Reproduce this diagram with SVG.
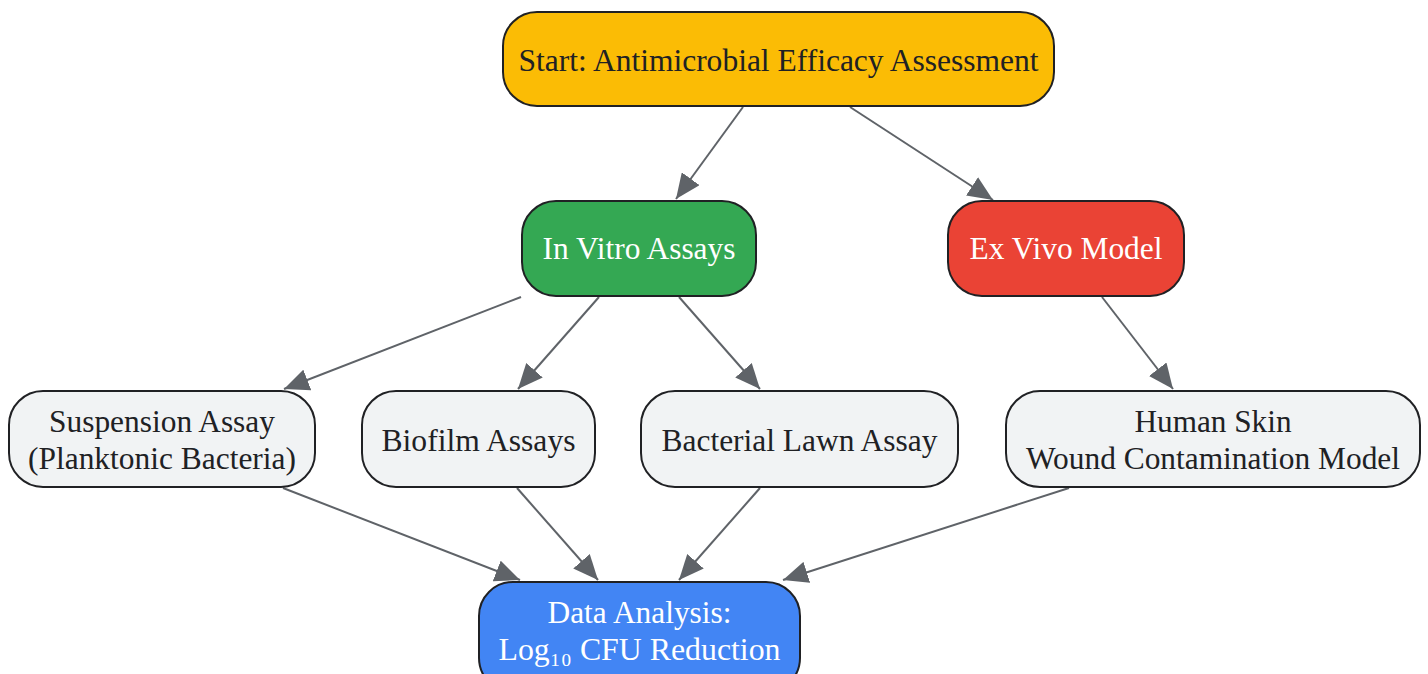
<svg xmlns="http://www.w3.org/2000/svg" width="1428" height="674" viewBox="0 0 1428 674">
<style>
.n{stroke:#202124;stroke-width:2}
.t{font-family:"Liberation Serif","Times New Roman",serif;font-size:31px;text-anchor:middle;fill:#202124}
.w{fill:#ffffff}
.e{stroke:#5f6368;stroke-width:2;fill:none;marker-end:url(#ah)}
</style>
<defs>
<marker id="ah" markerUnits="userSpaceOnUse" markerWidth="25" markerHeight="22" refX="25" refY="11" orient="auto">
<path d="M0,0 L25,11 L0,22 z" fill="#5f6368"/>
</marker>
</defs>
<g id="connectors">
<line class="e" x1="743" y1="107" x2="676" y2="199"/>
<line class="e" x1="850" y1="107" x2="993" y2="200"/>
<line class="e" x1="521" y1="297" x2="284" y2="389"/>
<line class="e" x1="599" y1="297" x2="518" y2="389"/>
<line class="e" x1="679" y1="297" x2="760" y2="389"/>
<line class="e" x1="1102" y1="297" x2="1173" y2="389"/>
<line class="e" x1="283" y1="488" x2="520" y2="580"/>
<line class="e" x1="517" y1="488" x2="598" y2="580"/>
<line class="e" x1="760" y1="488" x2="679" y2="580"/>
<line class="e" x1="1069" y1="488" x2="783" y2="580"/>
</g>
<g id="start">
<rect class="n" x="503" y="12" width="551" height="94" rx="34" fill="#FBBC05"/>
<text class="t" x="778.5" y="71" textLength="520" lengthAdjust="spacingAndGlyphs">Start: Antimicrobial Efficacy Assessment</text>
</g>
<g id="invitro">
<rect class="n" x="522" y="201" width="234" height="95" rx="34" fill="#34A853"/>
<text class="t w" x="639" y="259" textLength="193" lengthAdjust="spacingAndGlyphs">In Vitro Assays</text>
</g>
<g id="exvivo">
<rect class="n" x="948" y="201" width="236" height="95" rx="34" fill="#EA4335"/>
<text class="t w" x="1066" y="259" textLength="193" lengthAdjust="spacingAndGlyphs">Ex Vivo Model</text>
</g>
<g id="suspension">
<rect class="n" x="9" y="391" width="306" height="96" rx="34" fill="#F1F3F4"/>
<text class="t" x="162" y="432" textLength="226" lengthAdjust="spacingAndGlyphs">Suspension Assay</text>
<text class="t" x="162" y="469" textLength="268" lengthAdjust="spacingAndGlyphs">(Planktonic Bacteria)</text>
</g>
<g id="biofilm">
<rect class="n" x="362" y="391" width="233" height="96" rx="34" fill="#F1F3F4"/>
<text class="t" x="478.5" y="451" textLength="194" lengthAdjust="spacingAndGlyphs">Biofilm Assays</text>
</g>
<g id="lawn">
<rect class="n" x="641" y="391" width="317" height="96" rx="34" fill="#F1F3F4"/>
<text class="t" x="799.5" y="451" textLength="276" lengthAdjust="spacingAndGlyphs">Bacterial Lawn Assay</text>
</g>
<g id="skin">
<rect class="n" x="1006" y="391" width="414" height="96" rx="34" fill="#F1F3F4"/>
<text class="t" x="1213" y="432" textLength="157" lengthAdjust="spacingAndGlyphs">Human Skin</text>
<text class="t" x="1213" y="469" textLength="374" lengthAdjust="spacingAndGlyphs">Wound Contamination Model</text>
</g>
<g id="data">
<rect class="n" x="479" y="582" width="321" height="110" rx="34" fill="#4285F4"/>
<text class="t w" x="639.5" y="623" textLength="184" lengthAdjust="spacingAndGlyphs">Data Analysis:</text>
<text class="t w" x="639.5" y="660" textLength="282" lengthAdjust="spacingAndGlyphs">Log₁₀ CFU Reduction</text>
</g>
</svg>
